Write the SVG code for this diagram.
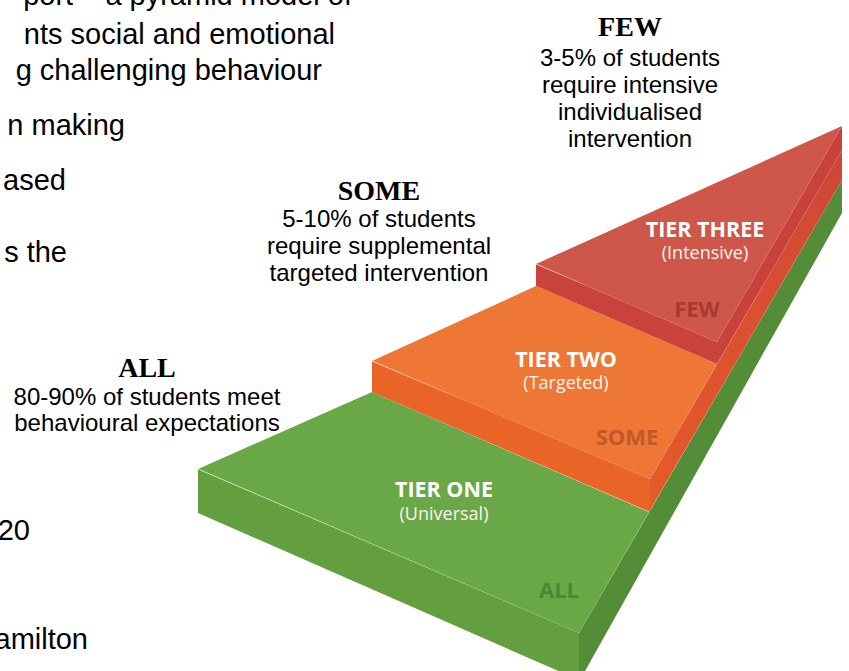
<svg xmlns="http://www.w3.org/2000/svg" width="849" height="671" viewBox="0 0 849 671">
<style>
.body{font-family:"Liberation Sans",Arial,sans-serif;font-size:29px;fill:#000;text-anchor:end}
.hd{font-family:"Liberation Serif","Times New Roman",serif;font-weight:bold;font-size:28px;fill:#000;text-anchor:middle}
.desc{font-family:"Liberation Sans",Arial,sans-serif;font-size:24px;fill:#000;text-anchor:middle}
.tier{font-family:"Open Sans",sans-serif;font-weight:700;font-size:21.5px;fill:#fff;text-anchor:middle}
.sub{font-family:"Open Sans",sans-serif;font-weight:400;font-size:18px;fill:#fdf3ee;text-anchor:middle}
.tag{font-family:"Open Sans",sans-serif;font-weight:700;font-size:22px;text-anchor:middle}
</style>
<defs>
<linearGradient id="oside" x1="0" y1="1" x2="1" y2="0">
<stop offset="0" stop-color="#e65b28"/>
<stop offset="1" stop-color="#cf4639"/>
</linearGradient>
<linearGradient id="hlfade" x1="0" y1="0" x2="1" y2="0">
<stop offset="0" stop-color="#fff" stop-opacity="0.7"/>
<stop offset="1" stop-color="#fff" stop-opacity="0"/>
</linearGradient>
</defs>
<rect width="849" height="671" fill="#ffffff"/>
<g id="body-text">
<text class="body" x="352" y="5">port – a pyramid model of</text>
<text class="body" x="335" y="44">nts social and emotional</text>
<text class="body" x="322" y="80">g challenging behaviour</text>
<text class="body" x="125" y="135">n making</text>
<text class="body" x="66" y="190">ased</text>
<text class="body" x="67" y="262">s the</text>
<text class="body" x="30" y="540">20</text>
<text class="body" x="88" y="649">amilton</text>
</g>
<g id="tier-one">
<polygon points="198,469 579,633 579,680 198,513" fill="#639e3f"/>
<polygon points="579,633 842,180 842,213 580,680 579,680" fill="#548d38"/>
<polygon points="198,469 372,392 649,512 579,633" fill="#6aa746"/>
<line x1="198" y1="469" x2="579" y2="633" stroke="url(#hlfade)" stroke-width="0.9"/>
<text class="tier" x="444" y="497">TIER ONE</text>
<text class="sub" x="444" y="520">(Universal)</text>
<text class="tag" x="559" y="598" fill="#4c8636">ALL</text>
</g>
<g id="tier-two">
<polygon points="372,361 650,479 650,512 372,392" fill="#e96427"/>
<polygon points="650,479 842,150 842,180 649,512" fill="url(#oside)"/>
<polygon points="372,361 536,286 717,364 650,479" fill="#ee7735"/>
<line x1="372" y1="361" x2="470" y2="403" stroke="url(#hlfade)" stroke-width="0.9"/>
<text class="tier" x="566" y="367">TIER TWO</text>
<text class="sub" x="566" y="389">(Targeted)</text>
<text class="tag" x="627" y="445" fill="#c2582a">SOME</text>
</g>
<g id="tier-three">
<polygon points="536,264 717,342 717,364 536,286" fill="#c9423b"/>
<polygon points="717,342 842,126 842,150 717,364" fill="#c8413a"/>
<polygon points="536,264 842,126 717,342" fill="#ce5749"/>
<line x1="536" y1="264" x2="590" y2="287" stroke="url(#hlfade)" stroke-width="0.9"/>
<text class="tier" x="705" y="237">TIER THREE</text>
<text class="sub" x="705" y="259">(Intensive)</text>
<text class="tag" x="697" y="317" fill="#a83a30">FEW</text>
</g>
<g id="label-few">
<text class="hd" x="630" y="36">FEW</text>
<text class="desc" x="630" y="66">3-5% of students</text>
<text class="desc" x="630" y="93">require intensive</text>
<text class="desc" x="630" y="120">individualised</text>
<text class="desc" x="630" y="147">intervention</text>
</g>
<g id="label-some">
<text class="hd" x="379" y="200">SOME</text>
<text class="desc" x="379" y="227">5-10% of students</text>
<text class="desc" x="379" y="254">require supplemental</text>
<text class="desc" x="379" y="281">targeted intervention</text>
</g>
<g id="label-all">
<text class="hd" x="147" y="377">ALL</text>
<text class="desc" x="147" y="405">80-90% of students meet</text>
<text class="desc" x="147" y="431">behavioural expectations</text>
</g>
<g id="connectors"/>
</svg>
